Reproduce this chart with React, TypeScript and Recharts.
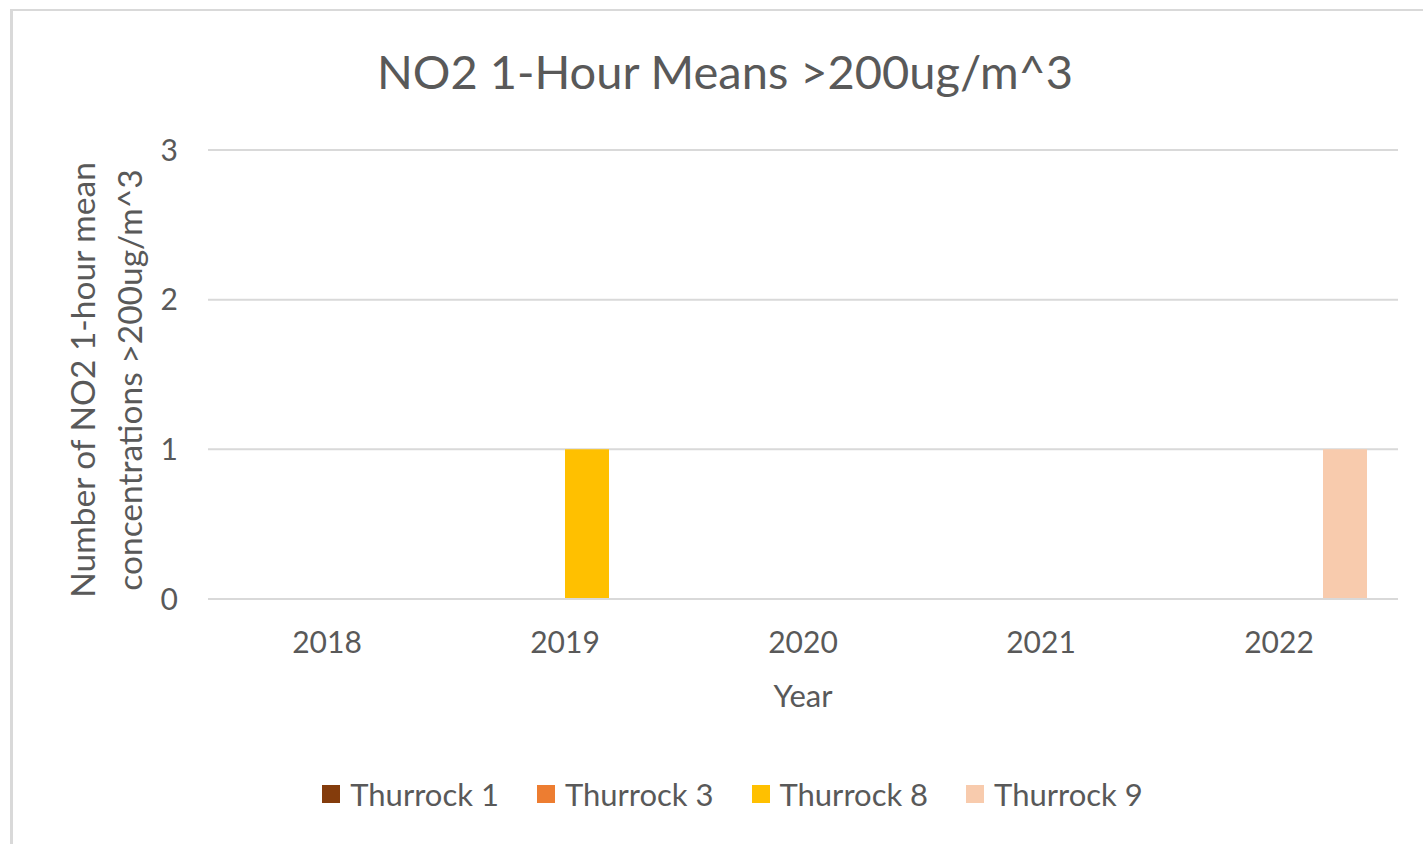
import { BarChart, Bar, XAxis, YAxis, CartesianGrid, Label } from "recharts";

const years = ["2018", "2019", "2020", "2021", "2022"];
const thurrock1 = [0, 0, 0, 0, 0];
const thurrock3 = [0, 0, 0, 0, 0];
const thurrock8 = [0, 1, 0, 0, 0];
const thurrock9 = [0, 0, 0, 0, 1];
const yTicks = [0, 1, 2, 3];

const series = [
  { key: "t1", name: "Thurrock 1", color: "#843c0c", values: thurrock1 },
  { key: "t3", name: "Thurrock 3", color: "#ed7d31", values: thurrock3 },
  { key: "t8", name: "Thurrock 8", color: "#ffc000", values: thurrock8 },
  { key: "t9", name: "Thurrock 9", color: "#f8cbad", values: thurrock9 },
];

const data = years.map((year, i) => {
  const row: Record<string, string | number> = { year };
  series.forEach((s) => (row[s.key] = s.values[i]));
  return row;
});

const FONT = "Lato, 'Noto Sans', sans-serif";
const TEXT = "#595959";
const GRID = "#d9d9d9";

function YLabel() {
  const cy = 380;
  return (
    <g>
      <text x={82} y={cy} transform={`rotate(-90 82 ${cy})`} textAnchor="middle"
        dominantBaseline="central" fontSize={33.5} fill={TEXT} fontFamily={FONT}>
        Number of NO2 1-hour mean
      </text>
      <text x={129} y={cy} transform={`rotate(-90 129 ${cy})`} textAnchor="middle"
        dominantBaseline="central" fontSize={33.5} fill={TEXT} fontFamily={FONT}>
        concentrations &gt;200ug/m^3
      </text>
    </g>
  );
}

export default function App() {
  return (
    <div style={{ position: "absolute", left: 0, top: 0, width: 1423, height: 844, background: "#fff", overflow: "hidden", fontFamily: FONT }}>
      <div style={{ position: "absolute", left: 10, top: 9, width: 1440, height: 860, borderTop: `2px solid ${GRID}`, borderLeft: `3px solid ${GRID}`, boxSizing: "border-box" }} />
      <div style={{ position: "absolute", left: 0, top: 43, width: 1450, textAlign: "center", fontSize: 47, color: TEXT }}>
        NO2 1-Hour Means &gt;200ug/m^3
      </div>
      <div style={{ position: "absolute", left: 0, top: 0 }}>
        <BarChart width={1423} height={844} data={data}
          margin={{ top: 150, right: 25, bottom: 145, left: 128 }}
          barCategoryGap={31} barGap={0}>
          <CartesianGrid vertical={false} stroke={GRID} strokeWidth={2} />
          <XAxis dataKey="year" height={100} axisLine={{ stroke: GRID, strokeWidth: 2 }} tickLine={false}
            tickSize={0} tickMargin={33} tick={{ fontSize: 30, fill: TEXT, fontFamily: FONT }}>
            <Label value="Year" position="insideTop" offset={86} fontSize={31} fill={TEXT} fontFamily={FONT} />
          </XAxis>
          <YAxis width={80} domain={[0, 3]} ticks={yTicks} axisLine={false} tickLine={false}
            tickSize={0} tickMargin={30} tick={{ fontSize: 30, fill: TEXT, fontFamily: FONT }}>
            <Label content={YLabel} />
          </YAxis>
          {series.map((s) => (
            <Bar key={s.key} dataKey={s.key} name={s.name} fill={s.color} isAnimationActive={false} />
          ))}
        </BarChart>
      </div>
      <div style={{ position: "absolute", left: 0, top: 775, width: 1465, display: "flex", justifyContent: "center", gap: 38, fontSize: 31, color: TEXT }}>
        {series.map((s) => (
          <div key={s.key} style={{ display: "flex", alignItems: "center", gap: 10 }}>
            <span style={{ width: 18, height: 18, background: s.color, display: "inline-block" }} />
            <span>{s.name}</span>
          </div>
        ))}
      </div>
    </div>
  );
}
